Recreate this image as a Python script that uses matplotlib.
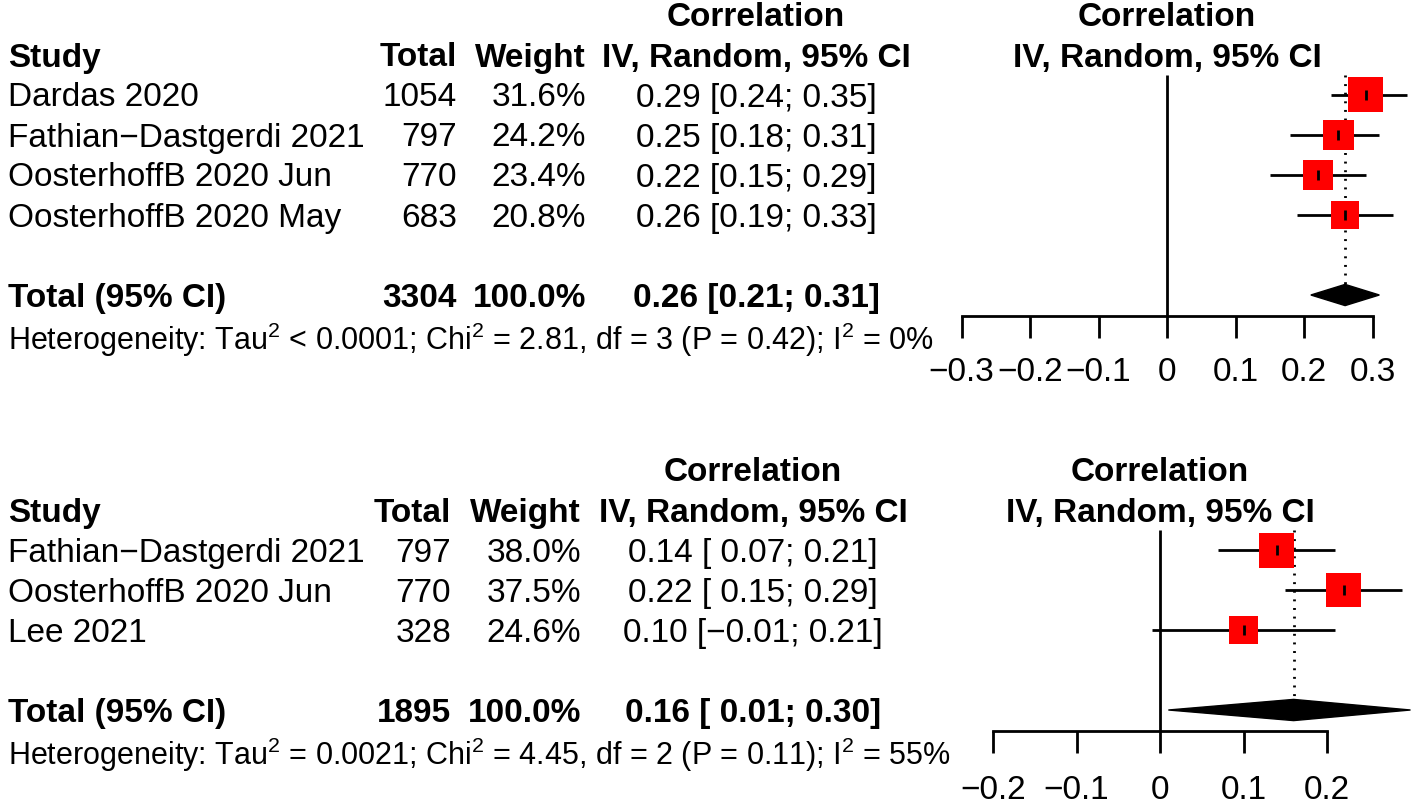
import matplotlib.pyplot as plt
from matplotlib.patches import Polygon

plt.rcParams['font.family'] = ['Liberation Sans', 'DejaVu Sans']
plt.rcParams['mathtext.fontset'] = 'custom'
plt.rcParams['mathtext.rm'] = 'Liberation Sans'
plt.rcParams['mathtext.it'] = 'Liberation Sans:italic'
plt.rcParams['mathtext.bf'] = 'Liberation Sans:bold'

W, H = 1416, 805
FS = 24
LW = 2.0

# upper meta-analysis
top_studies = ['Dardas 2020', 'Fathian-Dastgerdi 2021',
               'OosterhoffB 2020 Jun', 'OosterhoffB 2020 May']
top_total = [1054, 797, 770, 683]
top_weight = [31.6, 24.2, 23.4, 20.8]
top_est = [0.29, 0.25, 0.22, 0.26]
top_lo = [0.24, 0.18, 0.15, 0.19]
top_hi = [0.35, 0.31, 0.29, 0.33]
top_pooled = (3304, 0.26, 0.21, 0.31)
top_het = ('Heterogeneity: Tau$^2$ < 0.0001; Chi$^2$ = 2.81, '
           'df = 3 (P = 0.42); I$^2$ = 0%')
top_ticks = [-0.3, -0.2, -0.1, 0, 0.1, 0.2, 0.3]
top_ticklabels = ['-0.3', '-0.2', '-0.1', '0', '0.1', '0.2', '0.3']

# lower meta-analysis
bot_studies = ['Fathian-Dastgerdi 2021', 'OosterhoffB 2020 Jun', 'Lee 2021']
bot_total = [797, 770, 328]
bot_weight = [38.0, 37.5, 24.6]
bot_est = [0.14, 0.22, 0.10]
bot_lo = [0.07, 0.15, -0.01]
bot_hi = [0.21, 0.29, 0.21]
bot_pooled = (1895, 0.16, 0.01, 0.30)
bot_het = ('Heterogeneity: Tau$^2$ = 0.0021; Chi$^2$ = 4.45, '
           'df = 2 (P = 0.11); I$^2$ = 55%')
bot_ticks = [-0.2, -0.1, 0, 0.1, 0.2]
bot_ticklabels = ['-0.2', '-0.1', '0', '0.1', '0.2']


def minus(s):
    return s.replace('-', '\u2212')


def ci_label(est, lo, hi, pad):
    w = 5 if pad else 4
    return minus(f'{est:.2f} [{lo:{w}.2f}; {hi:.2f}]')


fig = plt.figure(figsize=(W / 100, H / 100), dpi=100)
bg = fig.add_axes([0, 0, 1, 1])
bg.set_xlim(0, W)
bg.set_ylim(H, 0)
bg.axis('off')


def panel(studies, totals, weights, est, lo, hi, pooled, het, ticks,
          ticklabels, row1, x_total, x_weight, x_ci, x_zero, unit, ax_left,
          ax_top, ax_bottom, label_pad):
    n = len(studies)
    pad = min(lo) < 0 or pooled[2] < 0
    base = 11.5  # baseline offset from row centre

    def yc(k):
        return row1 + 40 * (k - 1)

    # left table
    bg.text(x_ci, row1 - 81 + base, 'Correlation', ha='center',
            va='baseline', fontsize=FS, fontweight='bold')
    bg.text(x_zero, row1 - 81 + base, 'Correlation', ha='center',
            va='baseline', fontsize=FS, fontweight='bold')
    hy = yc(0) + base
    bg.text(8, hy, 'Study', fontsize=FS, fontweight='bold', va='baseline')
    bg.text(x_total, hy, 'Total', fontsize=FS, fontweight='bold',
            ha='right', va='baseline')
    bg.text(x_weight, hy, 'Weight', fontsize=FS, fontweight='bold',
            ha='right', va='baseline')
    bg.text(x_ci, hy, 'IV, Random, 95% CI', fontsize=FS,
            fontweight='bold', ha='center', va='baseline')
    bg.text(x_zero, hy, 'IV, Random, 95% CI', fontsize=FS,
            fontweight='bold', ha='center', va='baseline')
    for i in range(n):
        y = yc(i + 1) + base
        bg.text(8, y, minus(studies[i]), fontsize=FS, va='baseline')
        bg.text(x_total, y, str(totals[i]), fontsize=FS, ha='right',
                va='baseline')
        bg.text(x_weight, y, f'{weights[i]:.1f}%', fontsize=FS, ha='right',
                va='baseline')
        bg.text(x_ci, y, ci_label(est[i], lo[i], hi[i], pad), fontsize=FS,
                ha='center', va='baseline')
    ky = n + 2
    y = yc(ky) + base
    bg.text(8, y, 'Total (95% CI)', fontsize=FS, fontweight='bold',
            va='baseline')
    bg.text(x_total, y, str(pooled[0]), fontsize=FS, fontweight='bold',
            ha='right', va='baseline')
    bg.text(x_weight, y, '100.0%', fontsize=FS, fontweight='bold',
            ha='right', va='baseline')
    bg.text(x_ci, y, ci_label(pooled[1], pooled[2], pooled[3], pad),
            fontsize=FS, fontweight='bold', ha='center', va='baseline')
    bg.text(8, yc(ky) + 44 + base - 1, het, fontsize=FS - 2, va='baseline')

    # forest axes
    ax = fig.add_axes([ax_left / W, 1 - ax_bottom / H,
                       (W - ax_left) / W, (ax_bottom - ax_top) / H])
    ax.patch.set_visible(False)
    ax.set_xlim((ax_left - x_zero) / unit, (W - x_zero) / unit)
    ax.set_ylim(1 + (ax_bottom - row1) / 40, 1 + (ax_top - row1) / 40)
    axis_k = ky + 0.525
    ax.vlines(0, 0.5, axis_k, color='black', lw=LW)
    ax.vlines(pooled[1], 0.5, ky - 0.27, color='black', lw=LW,
              linestyles=(0, (0.7, 2.4)))
    rows = list(range(1, n + 1))
    ax.hlines(rows, lo, hi, color='black', lw=LW, zorder=3)
    side = [35 * (w / max(weights)) ** 0.5 * 0.72 for w in weights]
    ax.scatter(est, rows, s=[s ** 2 for s in side], marker='s',
               color='#ff0000', edgecolors='none', zorder=4)
    ax.scatter(est, rows, s=60, marker='|', color='black', linewidths=2,
               zorder=5)
    h = 0.265
    ax.add_patch(Polygon([(pooled[2], ky), (pooled[1], ky - h),
                          (pooled[3], ky), (pooled[1], ky + h)],
                         closed=True, color='black', zorder=4,
                         clip_on=False))
    for s in ['left', 'right', 'top']:
        ax.spines[s].set_visible(False)
    ax.spines['bottom'].set_position(('data', axis_k))
    ax.spines['bottom'].set_bounds(ticks[0], ticks[-1])
    ax.spines['bottom'].set_linewidth(LW)
    ax.set_yticks([])
    ax.set_xticks(ticks)
    ax.set_xticklabels([minus(t) for t in ticklabels])
    ax.tick_params(axis='x', direction='out', length=22 * 0.72, width=LW,
                   pad=label_pad, labelsize=FS)


panel(top_studies, top_total, top_weight, top_est, top_lo, top_hi,
      top_pooled, top_het, top_ticks, top_ticklabels,
      row1=95, x_total=457, x_weight=586, x_ci=756, x_zero=1167, unit=685,
      ax_left=940, ax_top=60, ax_bottom=400, label_pad=14)
panel(bot_studies, bot_total, bot_weight, bot_est, bot_lo, bot_hi,
      bot_pooled, bot_het, bot_ticks, bot_ticklabels,
      row1=550, x_total=451, x_weight=581, x_ci=753, x_zero=1160, unit=835,
      ax_left=960, ax_top=515, ax_bottom=805, label_pad=15.5)

fig.savefig('out.png', dpi=100)
